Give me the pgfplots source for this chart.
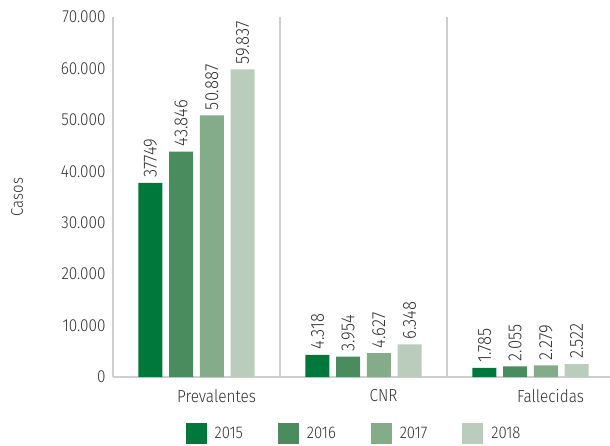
\documentclass[border=0pt]{standalone}
\usepackage{fontspec}
\setmainfont{Fira Sans}[UprightFont=* Light, FakeStretch=0.88]
\usepackage{pgfplots}
\pgfplotsset{compat=1.18}
\definecolor{cA}{HTML}{00783C}
\definecolor{cB}{HTML}{4A8C5E}
\definecolor{cC}{HTML}{84AC88}
\definecolor{cD}{HTML}{BACDBD}
\definecolor{txt}{HTML}{333333}
\definecolor{axg}{HTML}{CFCFCF}
\begin{document}
\begin{tikzpicture}
\path[use as bounding box] (0,0) rectangle (610bp,446bp);
\begin{axis}[
  at={(113bp,69bp)}, anchor=south west,
  scale only axis, width=497bp, height=360bp,
  xmin=-0.5, xmax=2.476, ymin=0, ymax=70000,
  ybar=6.7bp, bar width=24bp,
  axis x line=bottom, axis y line=left,
  axis line style={-, axg, line width=2bp},
  xtick={0,1,2}, xticklabels={Prevalentes,CNR,Fallecidas},
  extra x ticks={0.5,1.5}, extra x tick labels={},
  extra x tick style={grid=major, major grid style={axg, line width=2bp}},
  major tick length=0pt,
  ytick={0,10000,20000,30000,40000,50000,60000,70000},
  scaled y ticks=false,
  /pgf/number format/1000 sep={.},
  /pgf/number format/assume math mode=true,
  y tick label style={font=\fontsize{17.5}{20}\selectfont, text=txt, xshift=-4bp},
  x tick label style={font=\fontsize{17.5}{20}\selectfont, text=txt, xshift=20bp, yshift=-9bp},
  ylabel={Casos},
  ylabel style={at={(axis description cs:-0.193,0.5)}, rotate=0, anchor=center, font=\fontsize{17}{20}\selectfont, text=txt},
  point meta=explicit symbolic,
  nodes near coords={\fontsize{19}{21}\selectfont\pgfplotspointmeta},
  every node near coord/.append style={rotate=90, anchor=west, text=txt, inner sep=5bp},
  clip=false,
  legend style={at={(0.485,-0.158)}, anchor=center, legend columns=4, draw=none, fill=none,
    font=\fontsize{17}{20}\selectfont, text=txt,
    /tikz/every odd column/.append style={column sep=6bp},
    /tikz/every even column/.append style={column sep=33bp}},
  legend image code/.code={\fill[#1] (0bp,-10.5bp) rectangle (21bp,10.5bp);},
]
\addplot[fill=cA, draw=none] coordinates {(0,37749) [37749] (1,4318) [4.318] (2,1785) [1.785]};
\addplot[fill=cB, draw=none] coordinates {(0,43846) [43.846] (1,3954) [3.954] (2,2055) [2.055]};
\addplot[fill=cC, draw=none] coordinates {(0,50887) [50.887] (1,4627) [4.627] (2,2279) [2.279]};
\addplot[fill=cD, draw=none] coordinates {(0,59837) [59.837] (1,6348) [6.348] (2,2522) [2.522]};
\legend{2015,2016,2017,2018}
\end{axis}
\end{tikzpicture}
\end{document}
